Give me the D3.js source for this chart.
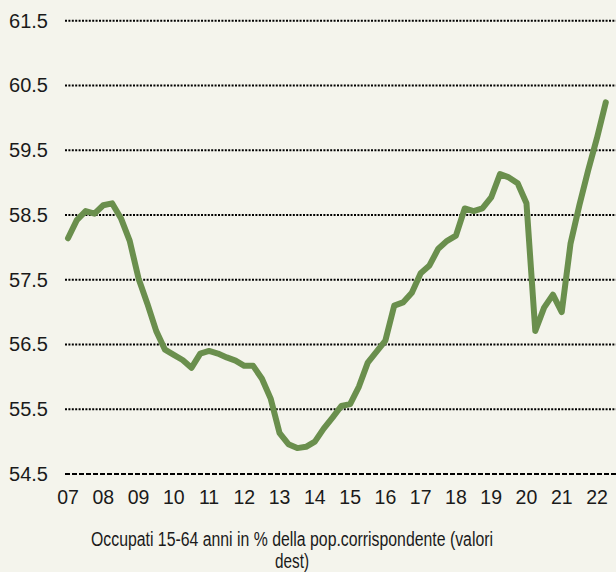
<!DOCTYPE html>
<html>
<head>
<meta charset="utf-8">
<script src="https://cdn.jsdelivr.net/npm/d3@7"></script>
<style>
  body { margin: 0; background: #f4f4ec; }
  svg { display: block; }
  text { font-family: "Liberation Sans", Arial, sans-serif; fill: #1a1a1a; }
</style>
</head>
<body>
<svg id="chart" width="616" height="572"></svg>
<script>
// quarterly values, 2007Q1 .. 2022Q2
var startYear = 2007;
var occupati = [
  58.14, 58.42, 58.56, 58.52, 58.65, 58.68, 58.45, 58.10,
  57.52, 57.13, 56.71, 56.42, 56.34, 56.26, 56.14, 56.36,
  56.40, 56.36, 56.30, 56.25, 56.17, 56.17, 55.97, 55.66,
  55.13, 54.96, 54.90, 54.92, 55.00, 55.20, 55.37, 55.55,
  55.58, 55.85, 56.22, 56.39, 56.56, 57.10, 57.15, 57.30,
  57.60, 57.72, 57.98, 58.10, 58.18, 58.60, 58.56, 58.60,
  58.77, 59.13, 59.08, 58.99, 58.68, 56.71, 57.07, 57.27,
  57.00, 58.06, 58.65, 59.19, 59.69, 60.24
];
var yTicks = [54.5, 55.5, 56.5, 57.5, 58.5, 59.5, 60.5, 61.5];
var xYears = [2007, 2008, 2009, 2010, 2011, 2012, 2013, 2014,
              2015, 2016, 2017, 2018, 2019, 2020, 2021, 2022];
var xLabels = ["07","08","09","10","11","12","13","14",
               "15","16","17","18","19","20","21","22"];
var caption1 = "Occupati 15-64 anni in % della pop.corrispondente (valori";
var caption2 = "dest)";

var svg = d3.select("#chart");

var x = d3.scaleLinear().domain([2007, 2022]).range([68, 597]);
var y = d3.scaleLinear().domain([54.5, 61.5]).range([474, 20.7]);

// grid lines
svg.append("g").selectAll("line").data(yTicks).enter().append("line")
  .attr("x1", 65).attr("x2", 616)
  .attr("y1", function(d){return y(d)})
  .attr("y2", function(d){return y(d)})
  .style("stroke", "#000")
  .style("stroke-width", function(d){return d == 54.5 ? 2.2 : 2})
  .style("stroke-dasharray", function(d){return d == 54.5 ? "5,2" : "2,1.4"});

// y labels
svg.append("g").selectAll("text").data(yTicks).enter().append("text")
  .attr("x", 48)
  .attr("y", function(d){return y(d) + 7})
  .attr("text-anchor", "end")
  .style("font-size", "20px")
  .text(function(d){return d.toFixed(1)});

// x labels
svg.append("g").selectAll("text").data(xYears).enter().append("text")
  .attr("x", function(d){return x(d)})
  .attr("y", 504)
  .attr("text-anchor", "middle")
  .style("font-size", "19.5px")
  .text(function(d,i){return xLabels[i]});

// the line
var line = d3.line()
  .x(function(d,i){return x(startYear + i/4)})
  .y(function(d){return y(d)});

svg.append("path")
  .datum(occupati)
  .attr("d", line)
  .attr("fill", "none")
  .style("stroke", "#6a8f4d")
  .style("stroke-width", 6)
  .style("stroke-linejoin", "round")
  .style("stroke-linecap", "round");

// caption
svg.append("text")
  .attr("x", 292).attr("y", 546)
  .attr("text-anchor", "middle")
  .attr("textLength", 402)
  .attr("lengthAdjust", "spacingAndGlyphs")
  .style("font-size", "20px")
  .text(caption1);
svg.append("text")
  .attr("x", 292).attr("y", 568)
  .attr("text-anchor", "middle")
  .attr("textLength", 34)
  .attr("lengthAdjust", "spacingAndGlyphs")
  .style("font-size", "20px")
  .text(caption2);
</script>
</body>
</html>
